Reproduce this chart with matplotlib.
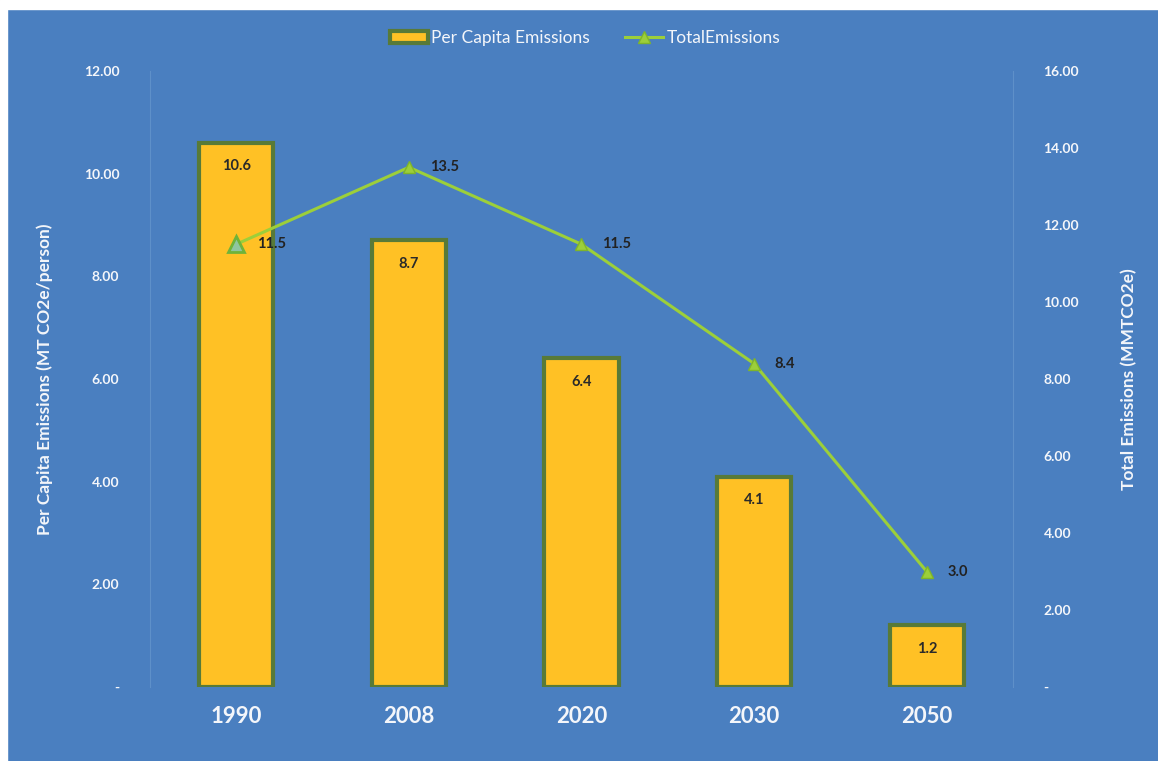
import numpy as np
import matplotlib.pyplot as plt
from matplotlib.patches import Rectangle

# data
years = ['1990', '2008', '2020', '2030', '2050']
per_capita = [10.6, 8.7, 6.4, 4.1, 1.2]
total = [11.5, 13.5, 11.5, 8.4, 3.0]
left_ticks = [0, 2, 4, 6, 8, 10, 12]
right_ticks = [0, 2, 4, 6, 8, 10, 12, 14, 16]

bg = '#4a7fc0'
bar_col = '#ffc125'
edge_col = '#587a38'
line_col = '#9ccf3a'
txt = '#f4f6fa'

plt.rcParams['font.family'] = ['Lato', 'DejaVu Sans']

fig = plt.figure(figsize=(11.58, 7.61), dpi=100, facecolor=bg)
# thin white margin at top/left as in the scan
fig.patches.append(Rectangle((0, 0.988), 1, 0.012, transform=fig.transFigure, color='white', zorder=0))
fig.patches.append(Rectangle((0, 0), 0.006, 1, transform=fig.transFigure, color='white', zorder=0))

ax = fig.add_axes([0.1295, 0.0972, 0.7453, 0.8095])
ax.set_facecolor(bg)
x = np.arange(len(years))

ax.bar(x, per_capita, width=0.43, color=bar_col, edgecolor=edge_col, linewidth=3,
       label='Per Capita Emissions', zorder=2)
for xi, v in zip(x, per_capita):
    ax.text(xi, v - 0.45, f'{v:.1f}', ha='center', va='center', fontsize=10.5,
            fontweight='bold', color='#2a2a2a', zorder=4)

ax.set_xlim(-0.5, len(years) - 0.5)
ax.set_ylim(0, 12)
ax.set_yticks(left_ticks)
ax.set_yticklabels(['-' if t == 0 else f'{t:.2f}' for t in left_ticks])
ax.set_xticks(x)
ax.set_xticklabels(years)
ax.tick_params(axis='x', length=0, pad=14, labelsize=16, labelcolor=txt)
ax.tick_params(axis='y', length=0, pad=22, labelsize=10, labelcolor=txt)
for lab in ax.get_xticklabels() + ax.get_yticklabels():
    lab.set_fontweight('bold')
ax.set_ylabel('Per Capita Emissions (MT CO2e/person)', color=txt, fontsize=12.5,
              fontweight='bold', labelpad=22)

ax2 = ax.twinx()
ax2.set_ylim(0, 16)
ax2.plot(x, total, color=line_col, linewidth=2.2, marker='^', markersize=9,
         markerfacecolor=line_col, markeredgecolor='#7fb52a', label='TotalEmissions', zorder=3)
# first point drawn hollow in the original
ax2.plot(x[:1], total[:1], linestyle='none', marker='^', markersize=11,
         markerfacecolor='#8fc6a0', markeredgecolor='#6fb33a', markeredgewidth=2, zorder=4)
for xi, v in zip(x, total):
    ax2.text(xi + 0.12, v, f'{v:.1f}', ha='left', va='center', fontsize=10.5,
             fontweight='bold', color='#222222', zorder=4)
ax2.set_yticks(right_ticks)
ax2.set_yticklabels(['-' if t == 0 else f'{t:.2f}' for t in right_ticks])
ax2.tick_params(axis='y', length=0, pad=22, labelsize=10, labelcolor=txt)
for lab in ax2.get_yticklabels():
    lab.set_fontweight('bold')
ax2.set_ylabel('Total Emissions (MMTCO2e)', color=txt, fontsize=12.5,
               fontweight='bold', labelpad=30)

for a in (ax, ax2):
    for s in a.spines.values():
        s.set_visible(False)
ax.spines['left'].set_visible(True)
ax.spines['left'].set_color('#5e90c9')
ax2.spines['right'].set_visible(True)
ax2.spines['right'].set_color('#5e90c9')

h1, l1 = ax.get_legend_handles_labels()
h2, l2 = ax2.get_legend_handles_labels()
leg = fig.legend(h1 + h2, l1 + l2, loc='center', bbox_to_anchor=(0.505, 0.95), ncol=2,
                 frameon=False, fontsize=12.5, handlelength=2.2, columnspacing=2.0,
                 handletextpad=0.2)
for t in leg.get_texts():
    t.set_color(txt)

fig.savefig('out.png', dpi=100, facecolor=bg)
